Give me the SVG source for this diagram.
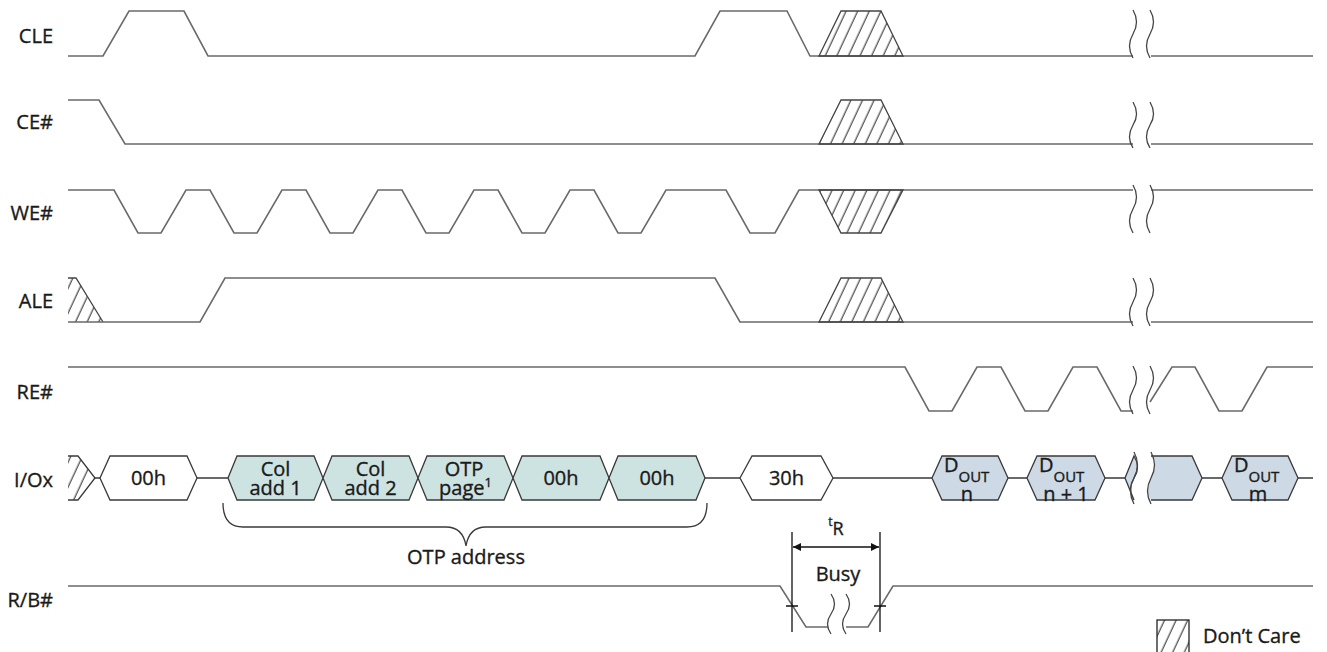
<svg xmlns="http://www.w3.org/2000/svg" width="1327" height="652" viewBox="0 0 1327 652">
<defs>
<pattern id="hatch" patternUnits="userSpaceOnUse" width="10.5" height="10" patternTransform="rotate(25)">
<line x1="5" y1="-1" x2="5" y2="11" stroke="#333" stroke-width="1.1"/>
</pattern>
<marker id="arr" viewBox="0 0 10 10" refX="10" refY="5" markerWidth="12" markerHeight="8" markerUnits="userSpaceOnUse" orient="auto-start-reverse">
<path d="M0,0 L10,5 L0,10 Z" fill="#111"/>
</marker>
<style>
.sig{fill:none;stroke:#6a6a6a;stroke-width:1.6;stroke-linejoin:miter}
.brk{fill:none;stroke:#444;stroke-width:1.3}
.dc{fill:url(#hatch);stroke:#444;stroke-width:1.3}
.dcf{fill:url(#hatch);stroke:none}
.hex{stroke:#3a3a3a;stroke-width:1.3}
.w{fill:#ffffff}
.t{fill:#cde3e2}
.b{fill:#cdd9e5}
.bus{fill:none;stroke:#3a3a3a;stroke-width:1.3}
.lbl{font-family:"Open Sans","Liberation Sans",sans-serif;font-size:20px;fill:#1a1a1a;stroke:#1a1a1a;stroke-width:0.35}
.c{text-anchor:middle}
.e{text-anchor:end}
.dim{stroke:#111;stroke-width:1.3;fill:none}
</style>
</defs>
<rect width="1327" height="652" fill="#ffffff"/>

<g id="CLE">
<text class="lbl e" x="53" y="43" font-size="21">CLE</text>
<path class="sig" d="M68,56 H103 L129,11 H184 L208,56 H695 L720,11 H787 L810,56 H1133 M1151,56 H1313"/>
<path class="dc" d="M819,56 L841,11 H881 L903,56 Z"/>
<path class="brk" d="M1133,10 q7,12 0,24 q-7,12 0,24 M1150,10 q7,12 0,24 q-7,12 0,24"/>
</g>

<g id="CE">
<text class="lbl e" x="53" y="129" font-size="21">CE#</text>
<path class="sig" d="M68,100 H99 L125,144 H1133 M1151,144 H1313"/>
<path class="dc" d="M819,144 L841,100 H881 L903,144 Z"/>
<path class="brk" d="M1133,102 q7,12 0,23 q-7,12 0,23 M1150,102 q7,12 0,23 q-7,12 0,23"/>
</g>

<g id="WE">
<text class="lbl e" x="53" y="220" font-size="21">WE#</text>
<path class="sig" d="M68,190 H114 L138,233 H161 L186,190 H210 L234,233 H257 L282,190 H306 L330,233 H353 L378,190 H402 L426,233 H449 L474,190 H498 L522,233 H545 L570,190 H594 L618,233 H641 L666,190 H726 L750,233 H775 L799,190 H1133 M1151,190 H1313"/>
<path class="dc" d="M819,190 H903 L881,233 H841 Z"/>
<path class="brk" d="M1133,185 q7,12 0,24 q-7,12 0,24 M1150,185 q7,12 0,24 q-7,12 0,24"/>
</g>

<g id="ALE">
<text class="lbl e" x="53" y="308" font-size="21">ALE</text>
<path class="dcf" d="M68,278 H76 L103,322 H68 Z"/>
<path class="brk" d="M68,278 H76 L103,322"/>
<path class="sig" d="M68,322 H200 L225,278 H715 L740,322 H1133 M1151,322 H1313"/>
<path class="dc" d="M819,322 L841,278 H881 L903,322 Z"/>
<path class="brk" d="M1133,278 q7,12 0,24 q-7,12 0,24 M1150,278 q7,12 0,24 q-7,12 0,24"/>
</g>

<g id="RE">
<text class="lbl e" x="53" y="399" font-size="21">RE#</text>
<path class="sig" d="M68,367 H905 L929,411 H952 L977,367 H1001 L1025,411 H1048 L1073,367 H1097 L1121,411 H1133 M1150,402 L1172,367 H1195 L1219,411 H1242 L1267,367 H1313"/>
<path class="brk" d="M1133,366 q7,12 0,24 q-7,12 0,24 M1150,366 q7,12 0,24 q-7,12 0,24"/>
</g>

<g id="IOx">
<text class="lbl e" x="53" y="487" font-size="21">I/Ox</text>
<path class="dcf" d="M68,456 H78 L95,478 L78,500 H68 Z"/>
<path class="bus" d="M68,456 H78 L95,478 L78,500 H68"/>
<path class="bus" d="M95,478 H100 M197,478 H228 M705,478 H740 M833,478 H932 M1008,478 H1027 M1105,478 H1125 M1202,478 H1222 M1298,478 H1313"/>
<g id="io-00h-a"><polygon class="hex w" points="100,478 110,456 187,456 197,478 187,500 110,500"/><text class="lbl c" x="148.5" y="485">00h</text></g>
<g id="io-col1"><polygon class="hex t" points="228,478 237,456 314,456 323,478 314,500 237,500"/><text class="lbl c" x="275.5" y="476">Col</text><text class="lbl c" x="275.5" y="495">add 1</text></g>
<g id="io-col2"><polygon class="hex t" points="323,478 332,456 409,456 418,478 409,500 332,500"/><text class="lbl c" x="370.5" y="476">Col</text><text class="lbl c" x="370.5" y="495">add 2</text></g>
<g id="io-otp"><polygon class="hex t" points="418,478 427,456 504,456 513,478 504,500 427,500"/><text class="lbl c" x="464" y="476">OTP</text><text class="lbl c" x="465.5" y="495">page<tspan font-size="13" dy="-8">1</tspan></text></g>
<g id="io-00h-b"><polygon class="hex t" points="513,478 522,456 600,456 609,478 600,500 522,500"/><text class="lbl c" x="561" y="485">00h</text></g>
<g id="io-00h-c"><polygon class="hex t" points="609,478 618,456 696,456 705,478 696,500 618,500"/><text class="lbl c" x="657" y="485">00h</text></g>
<g id="io-30h"><polygon class="hex w" points="740,478 752,456 821,456 833,478 821,500 752,500"/><text class="lbl c" x="786.5" y="485">30h</text></g>
<g id="io-dout-n"><polygon class="hex b" points="932,478 942,456 998,456 1008,478 998,500 942,500"/><text class="lbl" x="944" y="472">D<tspan font-size="15" dy="10">OUT</tspan></text><text class="lbl c" x="967" y="501" font-size="18">n</text></g>
<g id="io-dout-n1"><polygon class="hex b" points="1027,478 1037,456 1095,456 1105,478 1095,500 1037,500"/><text class="lbl" x="1039" y="472">D<tspan font-size="15" dy="10">OUT</tspan></text><text class="lbl c" x="1066" y="501" font-size="18">n + 1</text></g>
<g id="io-break">
<path class="hex b" d="M1125,478 L1134,456 q7,11 0,22 q-7,11 0,22 Z"/>
<path class="b" d="M1151,456 H1192 L1202,478 L1192,500 H1151 q-7,-11 0,-22 q7,-11 0,-22 Z"/>
<path class="bus" d="M1151,456 H1192 L1202,478 L1192,500 H1151"/>
<path class="brk" d="M1134,452 q7,13 0,26 q-7,13 0,26 M1151,452 q7,13 0,26 q-7,13 0,26"/>
</g>
<g id="io-dout-m"><polygon class="hex b" points="1222,478 1232,456 1288,456 1298,478 1288,500 1232,500"/><text class="lbl" x="1234" y="472">D<tspan font-size="15" dy="10">OUT</tspan></text><text class="lbl c" x="1258" y="501" font-size="18">m</text></g>
</g>

<g id="otp-address">
<path class="bus" d="M223,503 Q223,527 243,527 H446 Q463,527 466,546 Q469,527 486,527 H687 Q707,527 707,503"/>
<text class="lbl c" x="466" y="564">OTP address</text>
</g>

<g id="RB">
<text class="lbl e" x="53" y="607" font-size="21">R/B#</text>
<path class="sig" d="M68,586 H780 L806,627 H828 M846,627 H868 L893,586 H1313"/>
<path class="brk" d="M831,594 q7,10 0,20 q-7,10 0,20 M846,594 q7,10 0,20 q-7,10 0,20"/>
</g>

<g id="connectors">
<path class="dim" d="M792,532 V632 M880,532 V632 M786,606 H798 M874,606 H886"/>
<line class="dim" x1="836" y1="547" x2="793" y2="547" marker-end="url(#arr)"/>
<line class="dim" x1="836" y1="547" x2="879" y2="547" marker-end="url(#arr)"/>
<text class="lbl c" x="836" y="535"><tspan font-size="12" dy="-9">t</tspan><tspan font-size="18" dy="9">R</tspan></text>
<text class="lbl c" x="838" y="581">Busy</text>
</g>

<g id="legend">
<rect x="1157" y="620" width="32" height="40" fill="url(#hatch)" stroke="#222" stroke-width="1.3"/>
<text class="lbl" x="1203" y="643" font-size="21">Don’t Care</text>
</g>
</svg>
